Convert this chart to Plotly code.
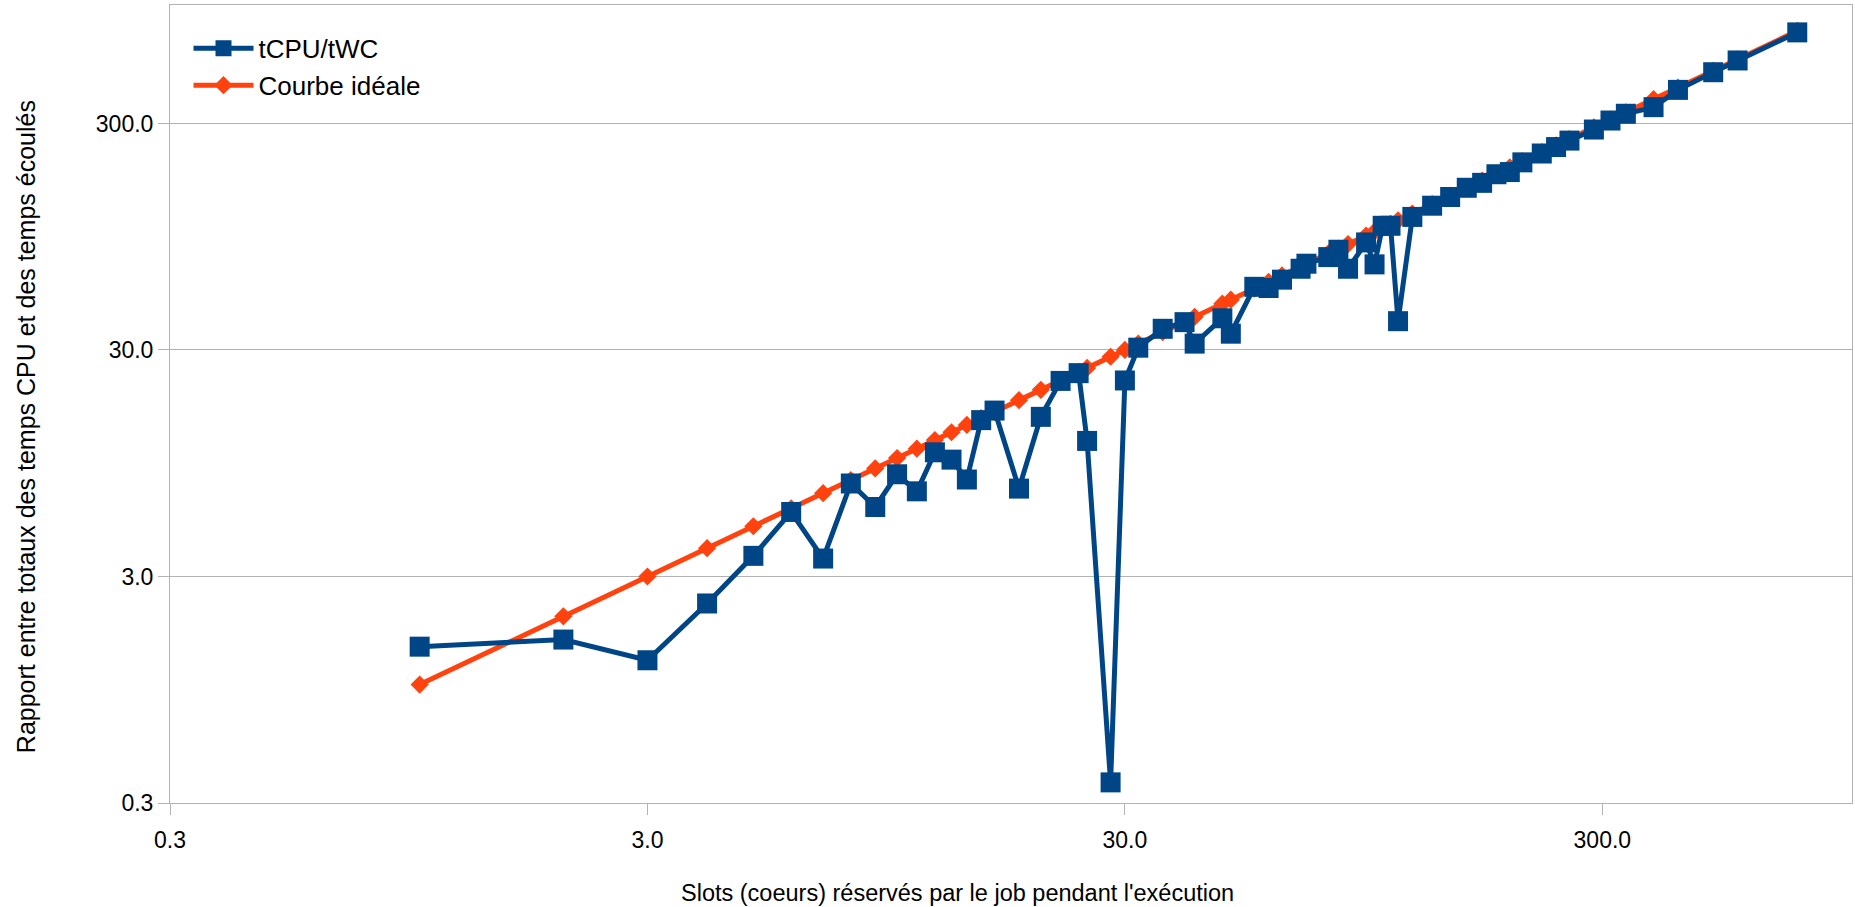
import plotly.graph_objects as go

# Slots reserved by the job (x) and measured ratio tCPU / tWC (y)
slots = [1, 2, 3, 4, 5, 6, 7, 8, 9, 10, 11, 12, 13, 14, 15, 16, 18, 20, 22, 24,
         25, 28, 30, 32, 36, 40, 42, 48, 50, 56, 60, 64, 70, 72, 80, 84, 88, 96,
         100, 104, 108, 112, 120, 132, 144, 156, 168, 180, 192, 204, 224, 240,
         256, 288, 312, 336, 384, 432, 512, 576, 768]

tcpu_twc = [1.47, 1.58, 1.28, 2.28, 3.70, 5.78, 3.60, 7.72, 6.08, 8.48, 7.13, 10.6,
            9.84, 8.04, 14.7, 16.2, 7.33, 15.2, 21.9, 23.7, 11.9, 0.37, 22.0, 30.7,
            37.2, 39.8, 32.0, 41.4, 35.4, 57.0, 56.3, 61.3, 68.5, 72.1, 77.1, 83.1,
            68.5, 89.5, 71.6, 106, 106, 40.2, 116, 130, 142, 156, 164, 179, 183,
            202, 221, 236, 252, 282, 309, 331, 354, 422, 505, 569, 757]

# Ideal scaling: the ratio equals the number of reserved slots
ideal = [1, 2, 3, 4, 5, 6, 7, 8, 9, 10, 11, 12, 13, 14, 15, 16, 18, 20, 22, 24,
         25, 28, 30, 32, 36, 40, 42, 48, 50, 56, 60, 64, 70, 72, 80, 84, 88, 96,
         100, 104, 108, 112, 120, 132, 144, 156, 168, 180, 192, 204, 224, 240,
         256, 288, 312, 336, 384, 432, 512, 576, 768]

tick_vals = [0.3, 3, 30, 300]
tick_text = ["0.3", "3.0", "30.0", "300.0"]

x_title = "Slots (coeurs) réservés par le job pendant l'exécution"
y_title = "Rapport entre totaux des temps CPU et des temps écoulés"

BLUE = "#004586"
ORANGE = "#ff420e"
GRID = "#b3b3b3"
FONT = "Liberation Sans, Arial, sans-serif"

fig = go.Figure()

fig.add_trace(go.Scatter(
    x=slots, y=ideal, name="Courbe idéale", mode="lines+markers",
    line=dict(color=ORANGE, width=5),
    marker=dict(symbol="diamond", size=14, color=ORANGE),
    legendrank=2,
))
fig.add_trace(go.Scatter(
    x=slots, y=tcpu_twc, name="tCPU/tWC", mode="lines+markers",
    line=dict(color=BLUE, width=5),
    marker=dict(symbol="square", size=20, color=BLUE),
    legendrank=1,
))

axis_common = dict(
    type="log",
    range=[-0.5228787, 3.0],
    tickmode="array",
    tickvals=tick_vals,
    ticktext=tick_text,
    ticks="outside",
    ticklen=11,
    tickcolor=GRID,
    showline=True,
    linecolor=GRID,
    linewidth=1,
    mirror=True,
    zeroline=False,
    tickfont=dict(family=FONT, size=23, color="#000000"),
)

fig.update_xaxes(**axis_common, showgrid=False, ticklabelstandoff=5)
fig.update_yaxes(**axis_common, showgrid=True, gridcolor=GRID, gridwidth=1)

# Axis titles, placed as free text around the plot area
fig.add_annotation(
    text=x_title, xref="paper", yref="paper", x=0.4683, y=-0.1128,
    xanchor="center", yanchor="middle", showarrow=False,
    font=dict(family=FONT, size=23.5, color="#000000"),
)
fig.add_annotation(
    text=y_title, xref="paper", yref="paper", x=-0.0856, y=0.471,
    xanchor="center", yanchor="middle", showarrow=False, textangle=-90,
    font=dict(family=FONT, size=25, color="#000000"),
)

fig.update_layout(
    width=1855,
    height=907,
    margin=dict(l=170, r=3, t=5, b=104),
    paper_bgcolor="#ffffff",
    plot_bgcolor="#ffffff",
    font=dict(family=FONT, color="#000000"),
    legend=dict(
        x=0.011, y=0.975, xanchor="left", yanchor="top",
        bgcolor="rgba(0,0,0,0)",
        font=dict(family=FONT, size=26, color="#000000"),
        itemwidth=60,
    ),
    showlegend=True,
)

fig.write_html("out.html")
